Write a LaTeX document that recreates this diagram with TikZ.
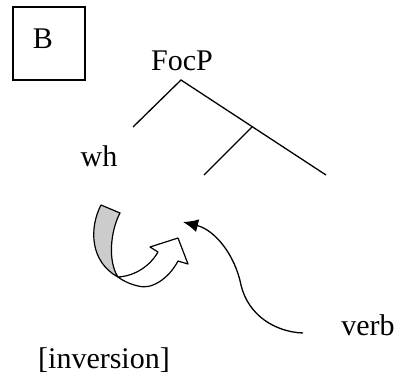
\documentclass[tikz,border=0pt]{standalone}
\usepackage{fontspec}
\setmainfont{Liberation Serif}
\usetikzlibrary{arrows.meta}
\begin{document}
\begin{tikzpicture}[x=0.5pt,y=-0.5pt,
  lbl/.style={font=\fontsize{15}{18}\selectfont, anchor=base, inner sep=0pt},
  branch/.style={line width=0.65pt},
  frame/.style={draw, line width=0.7pt, minimum width=36pt, minimum height=36.5pt, inner sep=0pt},
  blockarrow/.style={draw, line width=0.6pt, line join=round}]
\useasboundingbox (0,0) rectangle (402,381);
% boxed label
\node[frame] (box) at (49,43.5) {};
\node[lbl] (B) at (43,48) {B};
% tree
\node[lbl] (focp) at (182,70) {FocP};
\coordinate (top) at (181,80);
\coordinate (left) at (133,127);
\coordinate (mid) at (252,127);
\coordinate (right) at (326,175);
\coordinate (midleft) at (204,175);
\draw[branch] (left) -- (top) -- (right);
\draw[branch] (mid) -- (midleft);
\node[lbl] (wh) at (99,166) {wh};
\node[lbl] (verb) at (368,335) {verb};
\node[lbl] (inv) at (104,368) {[inversion]};
% curved block arrow (white part)
\filldraw[blockarrow, fill=white]
  (118,277) .. controls (135,276) and (150,266) .. (158,252)
  -- (150,247) -- (178,238) -- (188,264) -- (178,261)
  .. controls (168,280) and (150,290) .. (138,286)
  .. controls (130,284) and (123,281) .. (118,277) -- cycle;
% gray band
\filldraw[blockarrow, fill=black!20]
  (101,205) -- (120,213)
  .. controls (110,232) and (108,262) .. (118,277)
  .. controls (90,262) and (89,228) .. (101,205) -- cycle;
% verb movement arrow
\coordinate (vstart) at (303,333);
\coordinate (vbend) at (241,285);
\coordinate (target) at (183,222);
\draw[line width=0.65pt, -{Latex[length=7.5pt,width=6.5pt]}]
  (vstart) .. controls (275,332) and (248,315) .. (vbend)
  .. controls (235,255) and (215,230) .. (target);
\end{tikzpicture}
\end{document}
